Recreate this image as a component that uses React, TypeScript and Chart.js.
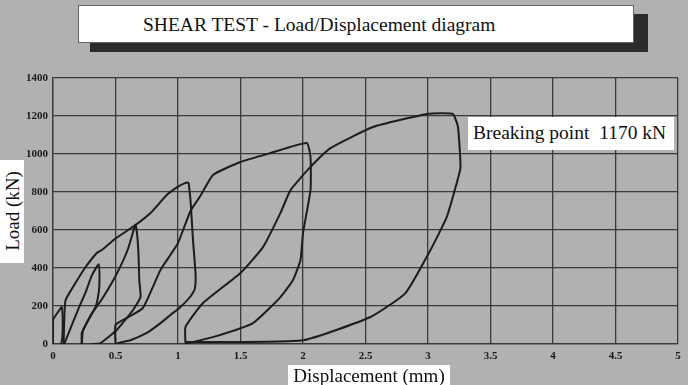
import React, { useEffect, useRef } from "react";
import { Chart, registerables } from "chart.js";

Chart.register(...registerables);

// Displacement (mm) / Load (kN) traces
const loop1X = [0, 0, 0.05, 0.07, 0.078, 0.074, 0.066];
const loop1Y = [0, 125, 178, 195, 120, 30, 0];

const envelopeX = [0.085, 0.09, 0.1, 0.16, 0.25, 0.35, 0.39, 0.5, 0.66, 0.78, 0.91, 1.0, 1.056, 1.085];
const envelopeY = [0, 130, 230, 300, 395, 479, 495, 555, 626, 689, 784, 828, 847, 850];

const loop4DownX = [1.085, 1.1, 1.12, 1.14, 1.135, 1.1, 1.02, 0.94, 0.86, 0.75, 0.62, 0.54, 0.5];
const loop4DownY = [850, 758, 547, 374, 290, 250, 195, 153, 110, 58, 20, 8, 0];

const loop2X = [0.09, 0.2, 0.26, 0.31, 0.365, 0.372, 0.365, 0.34, 0.27, 0.23, 0.23];
const loop2Y = [0, 180, 270, 360, 420, 340, 268, 195, 110, 58, 0];

const loop3X = [0.23, 0.24, 0.3, 0.4, 0.51, 0.6, 0.66, 0.675, 0.685, 0.69, 0.7, 0.64, 0.51, 0.38, 0.3];
const loop3Y = [0, 70, 150, 245, 370, 500, 628, 563, 458, 337, 247, 179, 74, 5, 0];

const loop5X = [0.5, 0.5, 0.6, 0.72, 0.86, 0.94, 1.0, 1.1, 1.18, 1.28, 1.5, 1.74, 2.03, 2.06, 2.06, 2.0, 1.98, 1.92, 1.82, 1.6, 1.3, 1.06];
const loop5Y = [0, 100, 140, 190, 390, 470, 531, 700, 780, 890, 958, 1005, 1058, 984, 810, 584, 442, 337, 247, 110, 40, 0];

const loop6X = [1.06, 1.06, 1.2, 1.5, 1.68, 1.82, 1.9, 2.06, 2.22, 2.56, 2.99, 3.1, 3.2, 3.24, 3.26, 3.23, 3.15, 3.02, 2.82, 2.54, 2.0, 1.06];
const loop6Y = [0, 90, 216, 374, 510, 690, 810, 932, 1031, 1142, 1211, 1215, 1211, 1142, 930, 847, 668, 495, 268, 142, 20, 10];

const traces = [
  [loop1X, loop1Y],
  [envelopeX, envelopeY],
  [loop4DownX, loop4DownY],
  [loop2X, loop2Y],
  [loop3X, loop3Y],
  [loop5X, loop5Y],
  [loop6X, loop6Y],
];

const xMin = 0;
const xMax = 5;
const xStep = 0.5;
const yMin = 0;
const yMax = 1400;
const yStep = 200;

const titleText = "SHEAR TEST - Load/Displacement diagram";
const yTitle = "Load (kN)";
const xTitle = "Displacement (mm)";
const noteText = "Breaking point  1170 kN";

const serif = "'Liberation Serif', 'DejaVu Serif', serif";

export default function App() {
  const ref = useRef<HTMLCanvasElement | null>(null);

  useEffect(() => {
    document.body.style.margin = "0";
    const canvas = ref.current;
    if (!canvas) return;
    const chart = new Chart(canvas, {
      type: "scatter",
      data: {
        datasets: traces.map(([xs, ys]) => ({
          data: xs.map((x, i) => ({ x, y: ys[i] })),
          showLine: true,
          fill: false,
          borderColor: "#1c1c1c",
          borderWidth: 2,
          pointRadius: 0,
          tension: 0.15,
        })),
      },
      options: {
        animation: false,
        responsive: false,
        events: [],
        layout: { padding: { top: 78, right: 10, left: 0, bottom: 0 } },
        plugins: { legend: { display: false }, tooltip: { enabled: false } },
        scales: {
          x: {
            type: "linear",
            min: xMin,
            max: xMax,
            afterFit: (s: any) => {
              s.height = 41;
            },
            ticks: {
              stepSize: xStep,
              padding: 6,
              color: "#1a1a1a",
              font: { family: serif, size: 11, weight: "bold" },
              callback: (v: any) => String(Math.round(Number(v) * 10) / 10),
            },
            grid: { color: "#3a3a3a", lineWidth: 1.3, drawTicks: false },
            border: { color: "#3a3a3a", width: 1.3 },
          },
          y: {
            type: "linear",
            min: yMin,
            max: yMax,
            afterFit: (s: any) => {
              s.width = 53;
            },
            ticks: {
              stepSize: yStep,
              padding: 5,
              color: "#1a1a1a",
              font: { family: serif, size: 11, weight: "bold" },
              callback: (v: any) => String(Math.round(Number(v))),
            },
            grid: { color: "#3a3a3a", lineWidth: 1.3, drawTicks: false },
            border: { color: "#3a3a3a", width: 1.3 },
          },
        },
      },
    } as any);
    return () => chart.destroy();
  }, []);

  return (
    <div
      style={{
        position: "fixed",
        left: 0,
        top: 0,
        width: 688,
        height: 385,
        background: "#b1b1b1",
        overflow: "hidden",
        fontFamily: serif,
      }}
    >
      <canvas ref={ref} width={688} height={385} style={{ position: "absolute", left: 0, top: 0 }} />
      <div style={{ position: "absolute", left: 90, top: 14, width: 558, height: 38, background: "#2b2b2b" }} />
      <div
        style={{
          position: "absolute",
          left: 78,
          top: 5,
          width: 556,
          height: 38,
          background: "#fff",
          boxSizing: "border-box",
          border: "1px solid #666",
        }}
      />
      <div
        style={{
          position: "absolute",
          left: 143,
          top: 15,
          fontSize: 19.5,
          lineHeight: "20px",
          color: "#111",
          whiteSpace: "pre",
        }}
      >
        {titleText}
      </div>
      <div style={{ position: "absolute", left: 0, top: 160, width: 24, height: 103, background: "#fff" }} />
      <div
        style={{
          position: "absolute",
          left: 12,
          top: 211,
          transform: "translate(-50%, -50%) rotate(-90deg)",
          fontSize: 19,
          lineHeight: "19px",
          color: "#111",
          whiteSpace: "pre",
        }}
      >
        {yTitle}
      </div>
      <div style={{ position: "absolute", left: 288, top: 365, width: 162, height: 20, background: "#fff" }} />
      <div
        style={{
          position: "absolute",
          left: 369,
          top: 375,
          transform: "translate(-50%, -50%)",
          fontSize: 19,
          lineHeight: "19px",
          color: "#111",
          whiteSpace: "pre",
        }}
      >
        {xTitle}
      </div>
      <div style={{ position: "absolute", left: 468, top: 117, width: 206, height: 33, background: "#fff" }} />
      <div
        style={{
          position: "absolute",
          left: 473,
          top: 123,
          fontSize: 19.5,
          lineHeight: "20px",
          color: "#111",
          whiteSpace: "pre",
        }}
      >
        {noteText}
      </div>
    </div>
  );
}
